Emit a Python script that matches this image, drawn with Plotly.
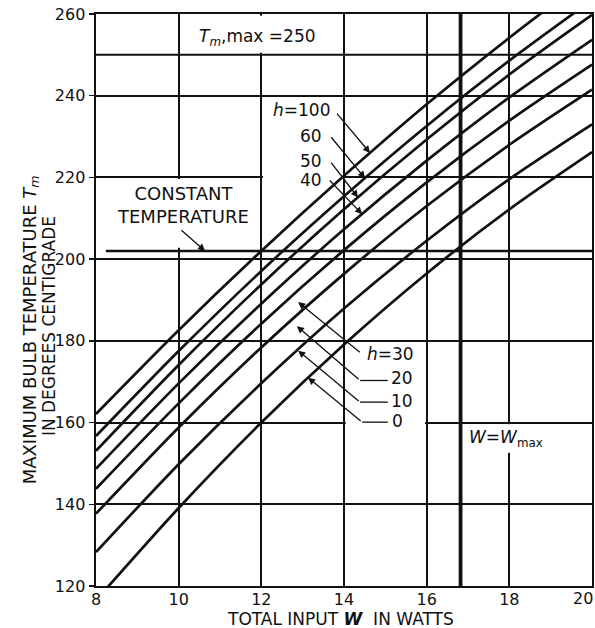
import plotly.graph_objects as go

# ---- data ----
W_GRID = [8, 10, 12, 14, 16, 18, 20]
H_VALUES = [100, 60, 50, 40, 30, 20, 10, 0]
T_H100 = [162.1, 182.6, 202.0, 220.4, 237.9, 254.2, 269.6]
T_H60 = [156.7, 177.5, 197.1, 215.4, 232.6, 248.6, 263.4]
T_H50 = [153.1, 174.1, 193.8, 212.2, 229.3, 245.2, 259.8]
T_H40 = [148.7, 169.6, 189.1, 207.3, 224.1, 239.6, 253.7]
T_H30 = [143.8, 164.7, 184.2, 202.2, 218.8, 233.9, 247.6]
T_H20 = [137.7, 158.8, 178.4, 196.4, 213.0, 228.0, 241.5]
T_H10 = [128.3, 149.8, 169.6, 187.9, 204.5, 219.6, 233.0]
T_H0 = [116.5, 139.1, 160.0, 179.1, 196.5, 212.2, 226.2]
SERIES = [T_H100, T_H60, T_H50, T_H40, T_H30, T_H20, T_H10, T_H0]

X_TICKS = [8, 10, 12, 14, 16, 18, 20]
X_TICK_TEXT = ["8", "10", "12", "14", "16", "18", ""]
LAST_X_LABEL = "20"
Y_TICKS = [120, 140, 160, 180, 200, 220, 240, 260]
T_MAX = 250
T_CONST = 202
W_MAX = 16.82

FONT = "DejaVu Sans"
INK = "#111111"

fig = go.Figure()
for h, ys in zip(H_VALUES, SERIES):
    fig.add_trace(go.Scatter(x=W_GRID, y=ys, mode="lines", name=f"h={h}",
                             line=dict(color=INK, width=2.7, shape="spline", smoothing=0.8),
                             showlegend=False, hoverinfo="skip"))

shapes = []
# white masks hiding grid segments behind labels (between grid and data)
for x0, x1, y0, y1 in [(10.08, 13.92, 250.5, 259.6), (8.1, 11.9, 202.8, 219.6),
                       (12.04, 13.96, 219.3, 220.7), (14.04, 15.96, 159.3, 160.7),
                       (17.9, 18.1, 152.6, 159.6)]:
    shapes.append(dict(type="rect", xref="x", yref="y", x0=x0, x1=x1, y0=y0, y1=y1,
                       fillcolor="white", line=dict(width=0), layer="between"))
# reference lines
shapes.append(dict(type="line", xref="x", yref="y", x0=8, x1=20, y0=T_MAX, y1=T_MAX,
                   line=dict(color=INK, width=2), layer="between"))
shapes.append(dict(type="line", xref="x", yref="y", x0=8.24, x1=20, y0=T_CONST, y1=T_CONST,
                   line=dict(color=INK, width=2.4), layer="between"))
shapes.append(dict(type="line", xref="x", yref="y", x0=W_MAX, x1=W_MAX, y0=120, y1=260,
                   line=dict(color=INK, width=3.8), layer="between"))
# horizontal parts of leaders for lower labels
for x0, x1, y in [(14.39, 15.06, 170.3), (14.39, 15.06, 165.0), (14.44, 15.06, 160.1)]:
    shapes.append(dict(type="line", xref="x", yref="y", x0=x0, x1=x1, y0=y, y1=y,
                       line=dict(color=INK, width=1.3)))

ann = []
tf = dict(family=FONT, size=17, color=INK)
tf18 = dict(family=FONT, size=18, color=INK)
# upper labels (right-aligned)
for txt, x, y in [("<i>h</i>=100", 13.70, 236.4), ("60", 13.52, 230.1),
                  ("50", 13.52, 224.0), ("40", 13.52, 219.4)]:
    ann.append(dict(x=x, y=y, xref="x", yref="y", text=txt, showarrow=False,
                    xanchor="right", yanchor="middle", font=tf))
# arrows for upper labels: head (x,y), tail (ax,ay)
for hx, hy, tx, ty in [(14.63, 226.0, 13.80, 236.0), (14.51, 219.8, 13.66, 230.2),
                       (14.34, 215.1, 13.66, 224.0), (14.44, 211.0, 13.62, 219.6)]:
    ann.append(dict(x=hx, y=hy, ax=tx, ay=ty, xref="x", yref="y", axref="x", ayref="y",
                    text="", showarrow=True, arrowhead=2, arrowsize=1.1, arrowwidth=1.3,
                    arrowcolor=INK, standoff=0, startstandoff=0))
# lower labels
for txt, x, y in [("<i>h</i>=30", 14.50, 176.9), ("20", 15.10, 171.0),
                  ("10", 15.10, 165.2), ("0", 15.12, 160.3)]:
    ann.append(dict(x=x, y=y, xref="x", yref="y", text=txt, showarrow=False,
                    xanchor="left", yanchor="middle", font=tf))
for hx, hy, tx, ty in [(12.89, 189.5, 14.42, 176.9), (12.86, 183.6, 14.39, 170.3),
                       (12.89, 177.6, 14.39, 165.0), (13.13, 171.0, 14.44, 160.1)]:
    ann.append(dict(x=hx, y=hy, ax=tx, ay=ty, xref="x", yref="y", axref="x", ayref="y",
                    text="", showarrow=True, arrowhead=2, arrowsize=1.1, arrowwidth=1.3,
                    arrowcolor=INK, standoff=0, startstandoff=0))
# constant temperature
ann.append(dict(x=10.1, y=213.3, xref="x", yref="y", text="CONSTANT<br>TEMPERATURE",
                showarrow=False, font=tf18, align="center"))
ann.append(dict(x=10.64, y=T_CONST, ax=10.03, ay=207.4, xref="x", yref="y", axref="x", ayref="y",
                text="", showarrow=True, arrowhead=2, arrowsize=1.1, arrowwidth=1.3,
                arrowcolor=INK, standoff=0, startstandoff=0))
# Tm,max label
ann.append(dict(x=11.9, y=254.3, xref="x", yref="y",
                text="<i>T<sub>m</sub></i>,max =250", showarrow=False, font=tf))
# W = Wmax label
ann.append(dict(x=17.92, y=156.0, xref="x", yref="y",
                text="<i>W</i>=<i>W</i><sub>max</sub>", showarrow=False, font=tf))
# last x tick label, kept inside the page edge
ann.append(dict(x=20, y=-0.021, xref="x", yref="paper", xanchor="right", yanchor="middle",
                xshift=3, text=LAST_X_LABEL, showarrow=False,
                font=dict(family=FONT, size=16, color=INK)))
# axis titles
ann.append(dict(x=0.492, y=-0.0585, xref="paper", yref="paper", xanchor="center", yanchor="middle",
                text="TOTAL INPUT <b><i>W</i></b>  IN WATTS", showarrow=False, font=tf))
ann.append(dict(x=-0.131, y=0.447, xref="paper", yref="paper", textangle=-90,
                xanchor="center", yanchor="middle",
                text="MAXIMUM BULB TEMPERATURE <i>T<sub>m</sub></i>", showarrow=False, font=tf18))
ann.append(dict(x=-0.096, y=0.455, xref="paper", yref="paper", textangle=-90,
                xanchor="center", yanchor="middle",
                text="IN DEGREES CENTIGRADE", showarrow=False, font=tf))

axis_common = dict(showgrid=True, gridcolor=INK, gridwidth=2, showline=True,
                   linecolor=INK, linewidth=2.4, mirror=True, zeroline=False,
                   automargin=False, tickfont=dict(family=FONT, size=16, color=INK))
fig.update_layout(
    width=595, height=628,
    margin=dict(l=96, r=3, t=14, b=42),
    paper_bgcolor="white", plot_bgcolor="white",
    xaxis=dict(range=[8, 20], tickvals=X_TICKS, ticktext=X_TICK_TEXT, ticks="",
               ticklabelstandoff=-3, **axis_common),
    yaxis=dict(range=[120, 260], tickvals=Y_TICKS, ticks="outside", ticklen=5,
               tickcolor=INK, tickwidth=1.3, **axis_common),
    shapes=shapes, annotations=ann,
    font=dict(family=FONT, color=INK),
)
fig.write_html("out.html", config={"displayModeBar": False, "staticPlot": True},
               post_script="document.body.style.margin='0';document.body.style.overflow='hidden';")
